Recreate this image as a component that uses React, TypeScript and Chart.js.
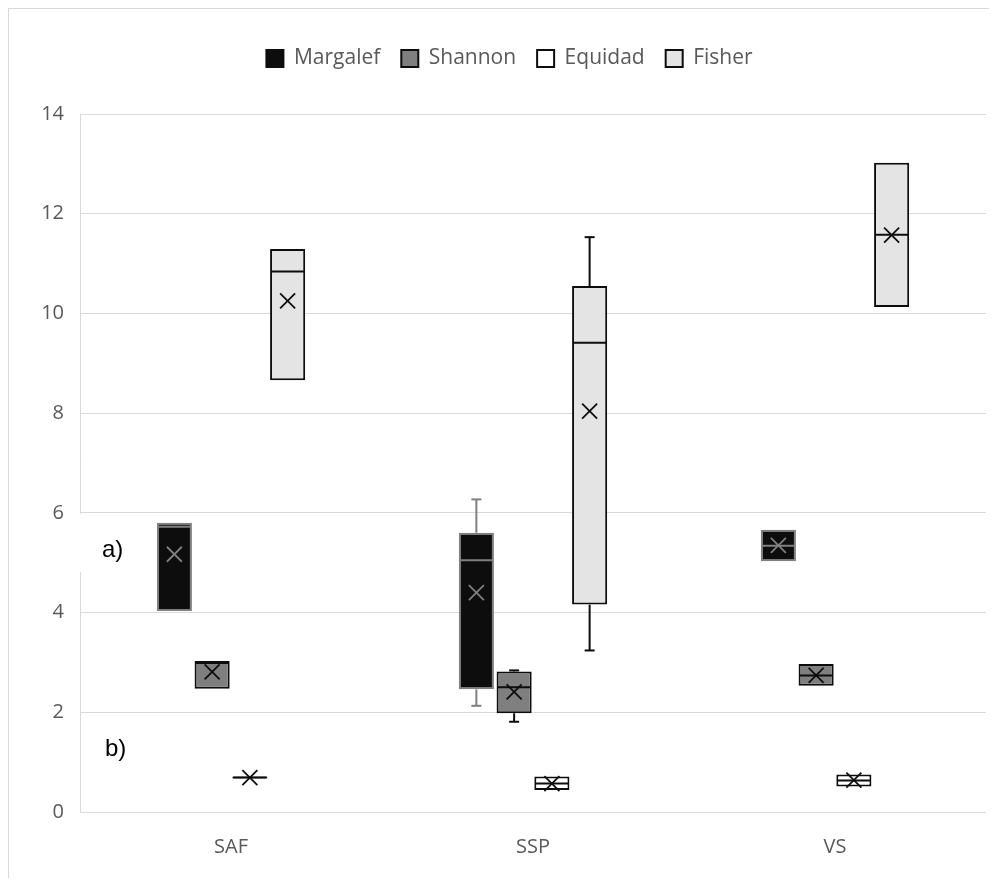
import React, { useEffect, useRef } from 'react';
import { Chart, registerables } from 'chart.js';

Chart.register(...registerables);

const categories = ['SAF', 'SSP', 'VS'];
const yTicks = [0, 2, 4, 6, 8, 10, 12, 14];

const margalefMin = [4.03, 2.13, 5.03];
const margalefQ1 = [4.03, 2.46, 5.03];
const margalefMedian = [5.72, 5.05, 5.34];
const margalefQ3 = [5.8, 5.6, 5.66];
const margalefMax = [5.8, 6.27, 5.66];
const margalefMean = [5.17, 4.4, 5.35];

const shannonMin = [2.47, 1.81, 2.53];
const shannonQ1 = [2.47, 1.98, 2.53];
const shannonMedian = [2.99, 2.5, 2.74];
const shannonQ3 = [3.03, 2.82, 2.97];
const shannonMax = [3.03, 2.84, 2.97];
const shannonMean = [2.81, 2.41, 2.74];

const equidadMin = [0.67, 0.44, 0.51];
const equidadQ1 = [0.67, 0.44, 0.51];
const equidadMedian = [0.69, 0.57, 0.63];
const equidadQ3 = [0.71, 0.71, 0.75];
const equidadMax = [0.71, 0.71, 0.75];
const equidadMean = [0.69, 0.57, 0.64];

const fisherMin = [8.66, 3.24, 10.13];
const fisherQ1 = [8.66, 4.16, 10.13];
const fisherMedian = [10.84, 9.41, 11.58];
const fisherQ3 = [11.29, 10.55, 13.02];
const fisherMax = [11.29, 11.53, 13.02];
const fisherMean = [10.25, 8.04, 11.57];

const series = [
  { name: 'Margalef', min: margalefMin, q1: margalefQ1, med: margalefMedian, q3: margalefQ3, max: margalefMax, mean: margalefMean, fill: '#0d0d0d', border: '#7f7f7f', line: '#808080' },
  { name: 'Shannon', min: shannonMin, q1: shannonQ1, med: shannonMedian, q3: shannonQ3, max: shannonMax, mean: shannonMean, fill: '#7f7f7f', border: '#0d0d0d', line: '#0d0d0d' },
  { name: 'Equidad', min: equidadMin, q1: equidadQ1, med: equidadMedian, q3: equidadQ3, max: equidadMax, mean: equidadMean, fill: '#ffffff', border: '#0d0d0d', line: '#0d0d0d' },
  { name: 'Fisher', min: fisherMin, q1: fisherQ1, med: fisherMedian, q3: fisherQ3, max: fisherMax, mean: fisherMean, fill: '#e4e4e4', border: '#0d0d0d', line: '#0d0d0d' },
];

const LEGEND_EXTRA = 35;

const legendSpacing = {
  id: 'legendSpacing',
  beforeInit(chart: any) {
    const legend = chart.legend;
    if (!legend) return;
    const orig = legend.fit;
    legend.fit = function () {
      orig.call(this);
      this.height += LEGEND_EXTRA;
    };
  },
};

const boxExtras = {
  id: 'boxExtras',
  afterDatasetsDraw(chart: any) {
    const ctx = chart.ctx;
    const ys = chart.scales.y;
    const py = (v: number) => ys.getPixelForValue(v);
    chart.data.datasets.forEach((_ds: any, di: number) => {
      const s = series[di];
      const meta = chart.getDatasetMeta(di);
      meta.data.forEach((el: any, i: number) => {
        const { x, width } = el.getProps(['x', 'width'], true);
        const left = x - width / 2;
        const right = x + width / 2;
        const line = (x1: number, y1: number, x2: number, y2: number) => {
          ctx.beginPath();
          ctx.moveTo(x1, y1);
          ctx.lineTo(x2, y2);
          ctx.stroke();
        };
        ctx.save();
        ctx.strokeStyle = s.line;
        ctx.lineWidth = 2;
        const cap = 5;
        if (s.max[i] > s.q3[i]) {
          line(x, py(s.q3[i]), x, py(s.max[i]));
          line(x - cap, py(s.max[i]), x + cap, py(s.max[i]));
        }
        if (s.min[i] < s.q1[i]) {
          line(x, py(s.q1[i]), x, py(s.min[i]));
          line(x - cap, py(s.min[i]), x + cap, py(s.min[i]));
        }
        line(left + 1, py(s.med[i]), right - 1, py(s.med[i]));
        const my = py(s.mean[i]);
        const r = 7.5;
        ctx.lineWidth = 1.8;
        line(x - r, my - r, x + r, my + r);
        line(x - r, my + r, x + r, my - r);
        ctx.restore();
      });
    });
  },
};

const panelLabels = {
  id: 'panelLabels',
  afterDraw(chart: any) {
    const ctx = chart.ctx;
    const ys = chart.scales.y;
    const left = chart.chartArea.left;
    ctx.save();
    ctx.fillStyle = '#ffffff';
    ctx.fillRect(left - 1, ys.getPixelForValue(6) + 1, 60, 58);
    ctx.fillStyle = '#000000';
    ctx.font = '24px "Liberation Sans", Arial, sans-serif';
    ctx.textBaseline = 'middle';
    ctx.textAlign = 'left';
    ctx.fillText('a)', left + 22, ys.getPixelForValue(5.25));
    ctx.fillText('b)', left + 25, ys.getPixelForValue(1.26));
    ctx.restore();
  },
};

export default function App() {
  const ref = useRef<HTMLCanvasElement | null>(null);

  useEffect(() => {
    if (!ref.current) return;
    const chart = new Chart(ref.current, {
      type: 'bar',
      data: {
        labels: categories,
        datasets: series.map((s) => ({
          label: s.name,
          data: categories.map((_c, i) => [s.q1[i], s.q3[i]]),
          backgroundColor: s.fill,
          borderColor: s.border,
          borderWidth: 2,
          borderSkipped: false,
          categoryPercentage: 0.5,
          barPercentage: 0.93,
        })),
      },
      options: {
        responsive: false,
        animation: false,
        devicePixelRatio: 1,
        layout: { padding: { top: 18, left: 24, right: 3, bottom: 0 } },
        plugins: {
          tooltip: { enabled: false },
          legend: {
            position: 'top',
            labels: {
              font: { family: '"Open Sans", sans-serif', size: 21 },
              color: '#595959',
              boxWidth: 17,
              boxHeight: 17,
              padding: 21,
              generateLabels: (c: any) =>
                Chart.defaults.plugins.legend.labels.generateLabels(c).map((l: any) => ({
                  ...l,
                  strokeStyle: '#0d0d0d',
                  lineWidth: 2,
                })),
            },
          },
        },
        scales: {
          x: {
            grid: { display: false },
            border: { display: false },
            ticks: {
              font: { family: '"Open Sans", sans-serif', size: 20 },
              color: '#595959',
              padding: 15,
            },
            afterFit: (scale: any) => {
              scale.height = 66;
            },
          },
          y: {
            min: 0,
            max: 14,
            afterBuildTicks: (scale: any) => {
              scale.ticks = yTicks.map((v) => ({ value: v }));
            },
            grid: { color: '#d9d9d9', lineWidth: 1, drawTicks: false },
            border: { display: true, color: '#d9d9d9', width: 1 },
            ticks: {
              font: { family: '"Open Sans", sans-serif', size: 20 },
              color: '#595959',
              padding: 16,
            },
            afterFit: (scale: any) => {
              scale.width = 47;
            },
          },
        },
      },
      plugins: [legendSpacing, boxExtras, panelLabels],
    });
    return () => chart.destroy();
  }, []);

  return (
    <div
      style={{
        borderTop: '1px solid #d9d9d9',
        borderLeft: '1px solid #d9d9d9',
        width: 980,
        height: 869,
        background: '#ffffff',
      }}
    >
      <canvas ref={ref} width={980} height={869} style={{ display: 'block' }} />
    </div>
  );
}
